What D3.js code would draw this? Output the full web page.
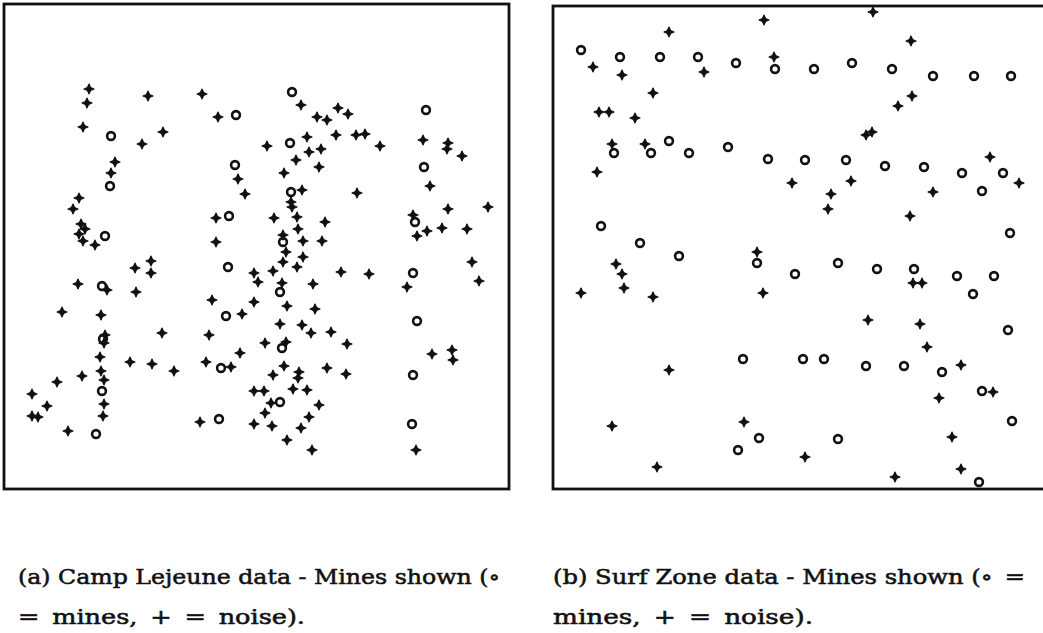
<!DOCTYPE html>
<html>
<head>
<meta charset="utf-8">
<script src="https://cdn.jsdelivr.net/npm/d3@7"></script>
<style>
  body { margin: 0; background: #fff; }
  text { font-family: "DejaVu Serif", serif; fill: #111; stroke: #111; stroke-width: 0.55; }
</style>
</head>
<body>
<svg id="mines" width="1043" height="633"></svg>
<script>
// positions (same units for both panels)
const lejeuneMines = [
  [292,92],[426,110],[236,115],[111,136],[290,143],[235,165],[424,167],[110,186],[291,192],
  [229,216],[415,222],[105,236],[283,242],[228,267],[413,273],[102,286],[280,292],[226,316],
  [417,321],[103,339],[282,348],[221,368],[413,375],[102,391],[280,402],[219,419],[412,424],[96,434]
];
const lejeuneNoise = [
  [89,89],[87,103],[148,96],[202,94],[218,117],[83,127],[163,132],[142,144],[115,162],[111,173],
  [238,179],[245,194],[79,198],[73,209],[216,218],[81,224],[85,229],[79,234],[83,241],[95,245],[216,242],
  [301,105],[338,108],[348,114],[317,117],[327,120],[307,137],[336,135],[356,135],[365,134],[267,146],
  [380,146],[423,140],[448,143],[447,149],[462,156],[309,152],[321,149],[296,160],[319,167],[284,173],
  [430,186],[302,190],[357,193],[291,202],[292,207],[448,209],[488,207],[274,218],[297,217],[325,222],
  [298,229],[413,215],[427,231],[417,236],[442,228],[467,229],[283,235],[303,241],[322,241],
  [135,268],[151,261],[151,273],[254,273],[258,282],[78,284],[107,290],[136,292],[212,300],[254,302],
  [62,312],[101,315],[242,314],[105,335],[104,343],[162,333],[209,335],[100,357],[130,362],[152,364],
  [174,371],[206,362],[231,367],[240,353],[101,371],[82,376],[104,380],[57,382],[32,394],[47,406],
  [104,404],[32,416],[38,417],[103,416],[68,431],[200,422],[254,391],[254,424],
  [286,252],[283,262],[303,257],[297,267],[273,271],[341,272],[369,274],[407,287],[472,262],[479,281],
  [282,283],[313,284],[287,306],[315,309],[280,324],[302,325],[311,333],[331,332],[265,343],[286,342],
  [347,344],[432,354],[452,350],[453,360],[284,366],[273,375],[299,372],[298,378],[327,368],[346,374],
  [264,391],[293,389],[307,390],[271,403],[319,405],[265,413],[309,417],[272,426],[301,428],[287,440],
  [312,450],[416,450]
];
const surfMines = [
  [581,50],[620,57],[660,57],[698,57],[736,63],[775,69],[814,69],[852,63],[892,69],[933,76],[974,76],[1011,76],
  [614,153],[651,153],[669,141],[689,153],[728,147],[768,159],[805,160],[846,160],[885,166],[924,167],
  [962,173],[1003,173],[982,191],[1010,233],
  [601,226],[640,243],[679,256],[757,263],[795,274],[838,263],[877,269],[914,269],[957,276],[994,276],
  [973,294],[1008,330],
  [743,359],[803,359],[824,359],[866,366],[904,366],[942,372],[982,391],[1012,421],
  [759,438],[738,450],[838,439],[979,482]
];
const surfNoise = [
  [669,32],[764,20],[774,57],[593,67],[622,75],[704,72],[653,93],[599,112],[609,112],[635,118],
  [612,144],[645,144],[792,183],[597,172],
  [873,12],[911,41],[912,96],[898,106],[866,135],[872,132],[990,157],[1019,183],[831,194],[851,181],
  [828,209],[933,192],[910,216],
  [757,252],[616,264],[622,274],[624,288],[581,293],[653,297],[763,293],[669,370],[612,426],[744,422],[657,467],
  [913,283],[922,283],[868,320],[920,324],[927,347],[961,365],[993,392],[939,398],[805,457],[952,437],
  [895,477],[961,469]
];
// en spaces around the math operators, like TeX spacing
const captions = [
  ["(a) Camp Lejeune data - Mines shown (\u2218", "=\u2002mines,\u2002+\u2002=\u2002noise)."],
  ["(b) Surf Zone data - Mines shown (\u2218\u2002=", "mines,\u2002+\u2002=\u2002noise)."]
];
const captionWidths = [[482, 287], [472, 260]];

const svg = d3.select("svg#mines");

const panels = [
  {frame: [4, 509, 4, 489], mines: lejeuneMines, noise: lejeuneNoise, text: captions[0], widths: captionWidths[0], tx: 18},
  {frame: [553, 1046, 6, 489], mines: surfMines, noise: surfNoise, text: captions[1], widths: captionWidths[1], tx: 553}
];

// 4-point star, how the "+" marks look in the scan
const plusPath = "M0,-5L1.6,-1.6L5,0L1.6,1.6L0,5L-1.6,1.6L-5,0L-1.6,-1.6Z";

panels.forEach(p => {
  let [x0, x1, y0, y1] = p.frame;
  let xScale = d3.scaleLinear().domain([x0, x1]).range([x0, x1]);
  let yScale = d3.scaleLinear().domain([y0, y1]).range([y0, y1]);

  let g = svg.append("g");

  g.append("rect")
    .attr("x", xScale(x0))
    .attr("y", yScale(y0))
    .attr("width", xScale(x1) - xScale(x0))
    .attr("height", yScale(y1) - yScale(y0))
    .attr("fill", "none")
    .attr("stroke", "#111")
    .attr("stroke-width", 2.8);

  g.selectAll("path.noise").data(p.noise)
    .join("path")
    .attr("class", "noise")
    .attr("d", plusPath)
    .attr("transform", d => `translate(${xScale(d[0])},${yScale(d[1])})`)
    .attr("fill", "#111")
    .attr("stroke", "#111")
    .attr("stroke-width", 1.1)
    .attr("stroke-linejoin", "round");

  g.selectAll("circle.mine").data(p.mines)
    .join("circle")
    .attr("class", "mine")
    .attr("cx", d => xScale(d[0]))
    .attr("cy", d => yScale(d[1]))
    .attr("r", 3.9)
    .attr("fill", "none")
    .attr("stroke", "#111")
    .attr("stroke-width", 2.6);

  g.selectAll("text").data(p.text)
    .join("text")
    .attr("x", p.tx)
    .attr("y", (d, i) => 584 + i * 40)
    .attr("font-size", 21)
    .attr("textLength", (d, i) => p.widths[i])
    .attr("lengthAdjust", "spacingAndGlyphs")
    .text(d => d);
});
</script>
</body>
</html>
